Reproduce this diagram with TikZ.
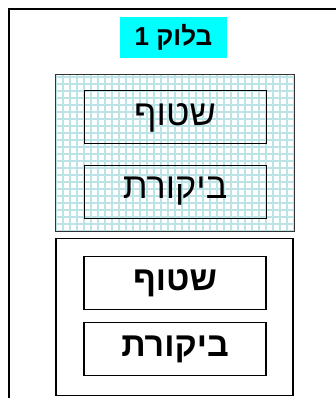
\documentclass[tikz,border=0pt]{standalone}
\usepackage{fontspec}
\newfontfamily\hebfont[Script=Hebrew]{Liberation Sans}
\TeXXeTstate=1
\definecolor{labelcyan}{RGB}{0,255,255}
\definecolor{gridcyan}{RGB}{188,228,230}
\tikzset{
  blockbox/.style={draw=black!80, line width=1pt, minimum width=239pt, minimum height=157pt, inner sep=0pt},
  stepbox/.style={draw=black, line width=1pt, minimum width=182pt, minimum height=53pt, inner sep=0pt, font=\hebfont\fontsize{36}{40}\selectfont},
}
\begin{document}
\begin{tikzpicture}[x=1pt, y=-1pt]
  \useasboundingbox (0,0) rectangle (336,398);
  \begin{scope}
    \clip (0,0) rectangle (336,398);
    \draw[line width=1.6pt] (9,420) -- (9,9) -- (360,9);
  \end{scope}
  % title label
  \node[fill=labelcyan, minimum width=107pt, minimum height=41pt, inner sep=0pt,
        font=\hebfont\bfseries\fontsize{26}{30}\selectfont] (title) at (173.5,37.5) {\beginR בלוק 1\endR};
  % upper block, grid filled
  \node[blockbox] (upper) at (174.5,153) {};
  \begin{scope}
    \clip (upper.north west) rectangle (upper.south east);
    \draw[gridcyan, line width=1.3pt, step=7pt] (upper.north west) grid (upper.south east);
  \end{scope}
  \node[blockbox] at (upper) {};
  \node[stepbox] (wash1) at (175,117.5) {\beginR שטוף\endR};
  \node[stepbox] (check1) at (175,191.5) {\beginR ביקורת\endR};
  % lower block
  \node[blockbox, draw=black, line width=1.4pt, minimum width=237pt] (lower) at (174.5,317) {};
  \node[stepbox, line width=1.4pt, font=\hebfont\bfseries\fontsize{34}{38}\selectfont] (wash2) at (175,283) {\beginR שטוף\endR};
  \node[stepbox, line width=1.4pt, font=\hebfont\bfseries\fontsize{34}{38}\selectfont] (check2) at (175,349) {\beginR ביקורת\endR};
\end{tikzpicture}
\end{document}
